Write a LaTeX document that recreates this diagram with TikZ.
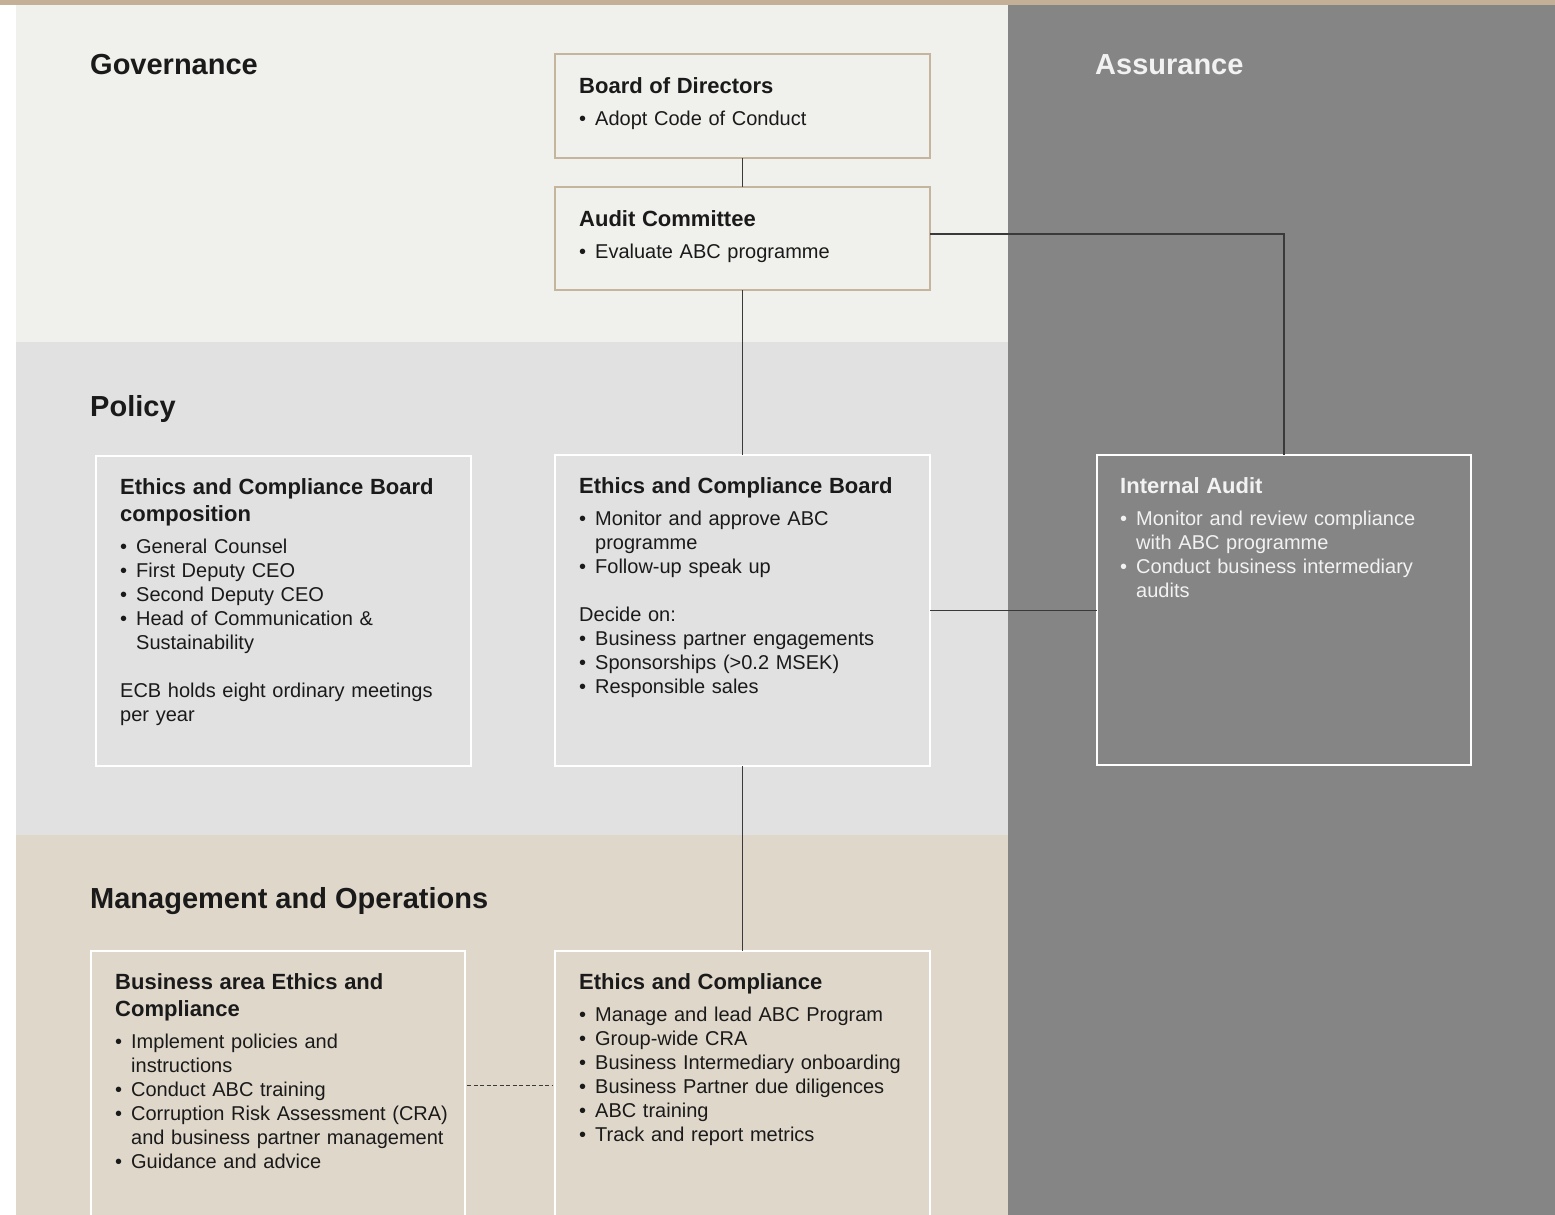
\documentclass[tikz,border=0pt]{standalone}
\usepackage{fontspec}
\setmainfont{Liberation Sans}
\usetikzlibrary{calc}
\definecolor{topbar}{HTML}{C3B097}
\definecolor{govbg}{HTML}{F0F0EC}
\definecolor{polbg}{HTML}{E1E1E1}
\definecolor{mgmbg}{HTML}{DFD7CA}
\definecolor{assbg}{HTML}{858585}
\definecolor{tanline}{HTML}{C5B59C}
\definecolor{conn}{HTML}{3A3A3A}
\definecolor{textc}{HTML}{1A1A1A}
\definecolor{lighttext}{HTML}{F2F2F2}
\setlength{\parindent}{0pt}
\setlength{\parskip}{0pt}
\newcommand{\boxttl}[1]{\rule{0pt}{20pt}{\fontsize{22}{27.5}\selectfont\bfseries #1\par}\vspace{8pt}}
\newcommand{\bul}[1]{\par\hangindent=16pt\hangafter=1\noindent\makebox[16pt][l]{\textbullet}#1}
\begin{document}
\begin{tikzpicture}[x=1pt,y=-1pt,
  tanbox/.style={draw=tanline, line width=2.5pt, minimum width=375pt, inner sep=0pt, outer sep=0pt},
  whitebox/.style={draw=white, line width=2pt, minimum width=375pt, inner sep=0pt, outer sep=0pt},
  txt/.style={anchor=north west, inner sep=0pt, text width=345pt, align=left,
    font=\fontsize{20}{24}\selectfont, text=textc},
  heading/.style={anchor=base west, inner sep=0pt, font=\fontsize{29}{34}\selectfont\bfseries, text=textc},
  connector/.style={draw=conn, line width=1.2pt}
]
\useasboundingbox (0,0) rectangle (1555,1215);
\clip (0,0) rectangle (1555,1215);
% background bands
\fill[white] (0,0) rectangle (1555,1215);
\fill[topbar] (0,0) rectangle (1555,5);
\fill[govbg] (16,5) rectangle (1008,342);
\fill[polbg] (16,342) rectangle (1008,835);
\fill[mgmbg] (16,835) rectangle (1008,1215);
\fill[assbg] (1008,5) rectangle (1555,1215);

% headings
\node[heading] (hgov) at (90,74.5) {Governance};
\node[heading, text=lighttext] (hass) at (1095,74.5) {Assurance};
\node[heading] (hpol) at (90,416) {Policy};
\node[heading] (hmgm) at (90,908) {Management and Operations};

% boxes
\node[tanbox, fill=govbg, minimum height=104pt] (bod) at (742.5,106) {};
\node[tanbox, fill=govbg, minimum height=103pt] (ac) at (742.5,238.5) {};
\node[whitebox, fill=polbg, minimum height=310pt] (ecbc) at (283.5,611) {};
\node[whitebox, fill=polbg, minimum height=311pt] (ecb) at (742.5,610.5) {};
\node[whitebox, fill=assbg, minimum width=374pt, minimum height=310pt] (ia) at (1284,610) {};
\node[whitebox, fill=mgmbg, minimum width=374pt, minimum height=298pt] (baec) at (278,1100) {};
\node[whitebox, fill=mgmbg, minimum height=298pt] (ec) at (742.5,1100) {};

% connectors
\draw[connector] (bod.south) -- (ac.north);
\draw[connector] (ac.south) -- (ecb.north);
\draw[connector] ([yshift=4.5pt]ac.east) -| (ia.north);
\draw[connector] (ecb.east) -- (ecb.east -| ia.west);
\draw[connector] (ecb.south) -- (ec.north);
\draw[connector, line width=1pt, dash pattern=on 4pt off 2.5pt] ($(baec.north east)+(2,134)$) -- ($(ec.north west)+(-2,134)$);

% texts
\node[txt] (bodt) at (579,73) {\boxttl{Board of Directors}\bul{Adopt Code of Conduct}\par};
\node[txt] (act) at (579,206) {\boxttl{Audit Committee}\bul{Evaluate ABC programme}\par};
\node[txt] (ecbct) at (120,474) {\boxttl{Ethics and Compliance Board\newline composition}%
\bul{General Counsel}\bul{First Deputy CEO}\bul{Second Deputy CEO}%
\bul{Head of Communication \&\newline Sustainability}\par\vspace{24pt}%
\noindent ECB holds eight ordinary meetings\newline per year\par};
\node[txt] (ecbt) at (579,473) {\boxttl{Ethics and Compliance Board}%
\bul{Monitor and approve ABC\newline programme}\bul{Follow-up speak up}\par\vspace{24pt}%
\noindent Decide on:\bul{Business partner engagements}\bul{Sponsorships (>0.2 MSEK)}\bul{Responsible sales}\par};
\node[txt, text=lighttext] (iat) at (1120,473) {\boxttl{Internal Audit}%
\bul{Monitor and review compliance\newline with ABC programme}\bul{Conduct business intermediary\newline audits}\par};
\node[txt] (baect) at (115,969) {\boxttl{Business area Ethics and\newline Compliance}%
\bul{Implement policies and\newline instructions}\bul{Conduct ABC training}%
\bul{Corruption Risk Assessment (CRA)\newline and business partner management}\bul{Guidance and advice}\par};
\node[txt] (ect) at (579,969) {\boxttl{Ethics and Compliance}%
\bul{Manage and lead ABC Program}\bul{Group-wide CRA}\bul{Business Intermediary onboarding}%
\bul{Business Partner due diligences}\bul{ABC training}\bul{Track and report metrics}\par};
\end{tikzpicture}
\end{document}
